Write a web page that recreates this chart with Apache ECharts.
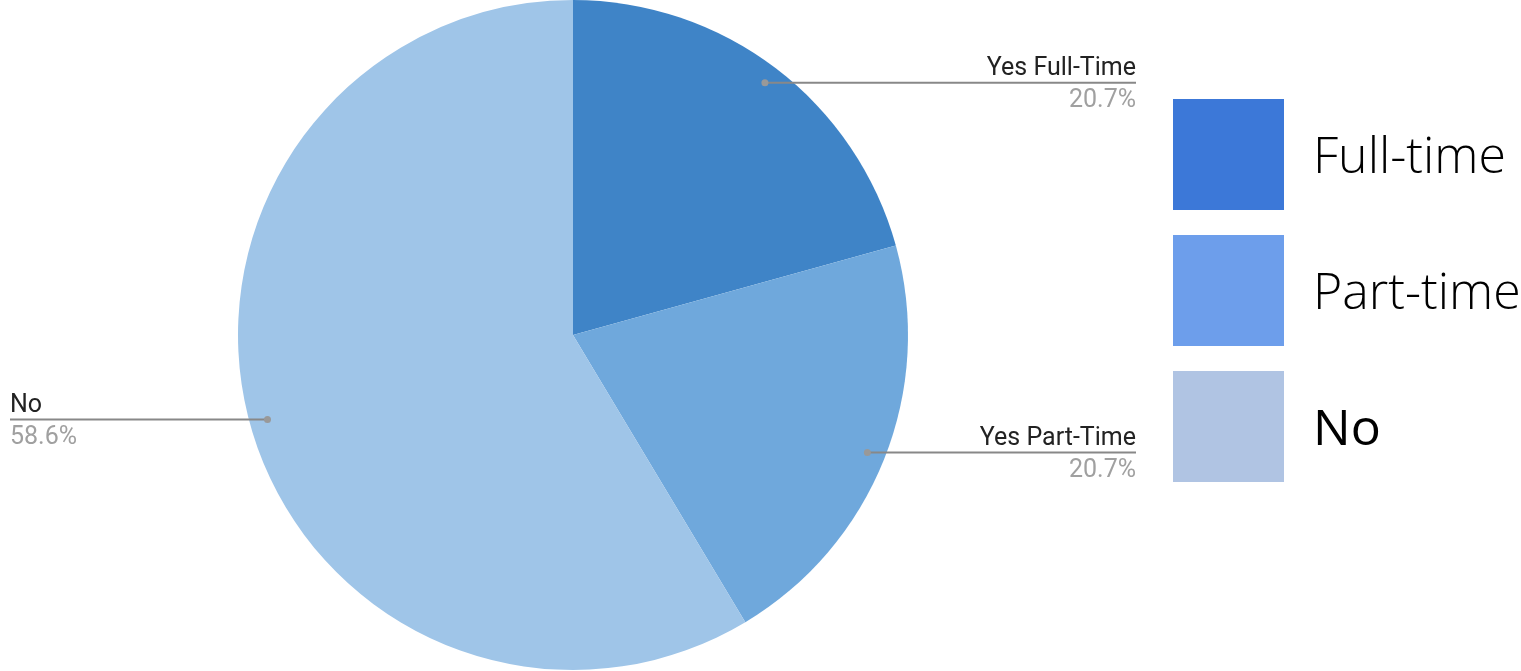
<!DOCTYPE html>
<html>
<head>
<meta charset="utf-8">
<script src="https://cdn.jsdelivr.net/npm/echarts@6/dist/echarts.min.js"></script>
<style>
html,body{margin:0;padding:0;background:#fff;}
#chart{width:1521px;height:671px;}
</style>
</head>
<body>
<div id="chart"></div>
<script>
// ---- data ----
const categories = ['Yes Full-Time', 'Yes Part-Time', 'No'];
const values = [20.7, 20.7, 58.6];
const legendLabels = ['Full-time', 'Part-time', 'No'];

// ---- styles ----
const sliceColors = ['#3f84c7', '#6fa8dc', '#9fc5e8'];
const legendColors = ['#3c78d8', '#6d9eeb', '#b0c4e3'];
const legendWeights = [300, 300, 400];

const CENTER = [573, 335];
const RADIUS = 335;
const LABEL_RADIUS = 317;
const RIGHT_EDGE = 1136;
const LEFT_EDGE = 10;

const total = values.reduce((a, b) => a + b, 0);
let cum = 0;
const mids = values.map(v => { const m = cum + v / 2; cum += v; return m / total * 100; });

function renderLabel(params, api) {
  const i = api.value(2);
  const pt = api.coord([api.value(0), api.value(1)]);
  const right = api.value(1) < 50;
  const ex = right ? RIGHT_EDGE : LEFT_EDGE;
  const align = right ? 'right' : 'left';
  return {
    type: 'group',
    children: [
      { type: 'line', shape: { x1: pt[0], y1: pt[1], x2: ex, y2: pt[1] },
        style: { stroke: '#888', lineWidth: 2 } },
      { type: 'circle', shape: { cx: pt[0], cy: pt[1], r: 3.5 }, style: { fill: '#999' } },
      { type: 'text', style: { x: ex, y: pt[1] - 14, text: categories[i], fill: '#222',
          fontFamily: 'Roboto', fontSize: 25, align: align, verticalAlign: 'middle' } },
      { type: 'text', style: { x: ex, y: pt[1] + 18, text: values[i].toFixed(1) + '%', fill: '#a0a0a0',
          fontFamily: 'Roboto', fontSize: 25, align: align, verticalAlign: 'middle' } }
    ]
  };
}

const chart = echarts.init(document.getElementById('chart'), null, { renderer: 'canvas' });
chart.setOption({
  animation: false,
  backgroundColor: '#fff',
  polar: { center: CENTER, radius: RADIUS },
  angleAxis: { type: 'value', min: 0, max: 100, startAngle: 90, clockwise: true, show: false },
  radiusAxis: { type: 'value', min: 0, max: RADIUS, show: false },
  legend: {
    orient: 'vertical',
    left: 1173,
    top: 99,
    padding: 0,
    itemWidth: 111,
    itemHeight: 111,
    itemGap: 25,
    icon: 'rect',
    selectedMode: false,
    formatter: name => '{t|' + legendLabels[categories.indexOf(name)] + '}',
    textStyle: {
      fontFamily: 'Open Sans', fontSize: 50, color: '#000', padding: [0, 0, 0, 24],
      rich: { t: { fontFamily: 'Open Sans', fontSize: 50, color: '#000', padding: [8, 0, 0, 0] } }
    },
    data: categories.map((c, i) => ({
      name: c,
      itemStyle: { color: legendColors[i] },
      textStyle: { fontWeight: legendWeights[i] }
    }))
  },
  series: [
    {
      type: 'pie',
      silent: true,
      center: CENTER,
      radius: RADIUS,
      startAngle: 90,
      clockwise: true,
      label: { show: false },
      labelLine: { show: false },
      data: categories.map((c, i) => ({ name: c, value: values[i], itemStyle: { color: sliceColors[i] } }))
    },
    {
      type: 'custom',
      coordinateSystem: 'polar',
      silent: true,
      z: 5,
      renderItem: renderLabel,
      data: mids.map((m, i) => [LABEL_RADIUS, m, i])
    }
  ]
});
</script>
</body>
</html>
